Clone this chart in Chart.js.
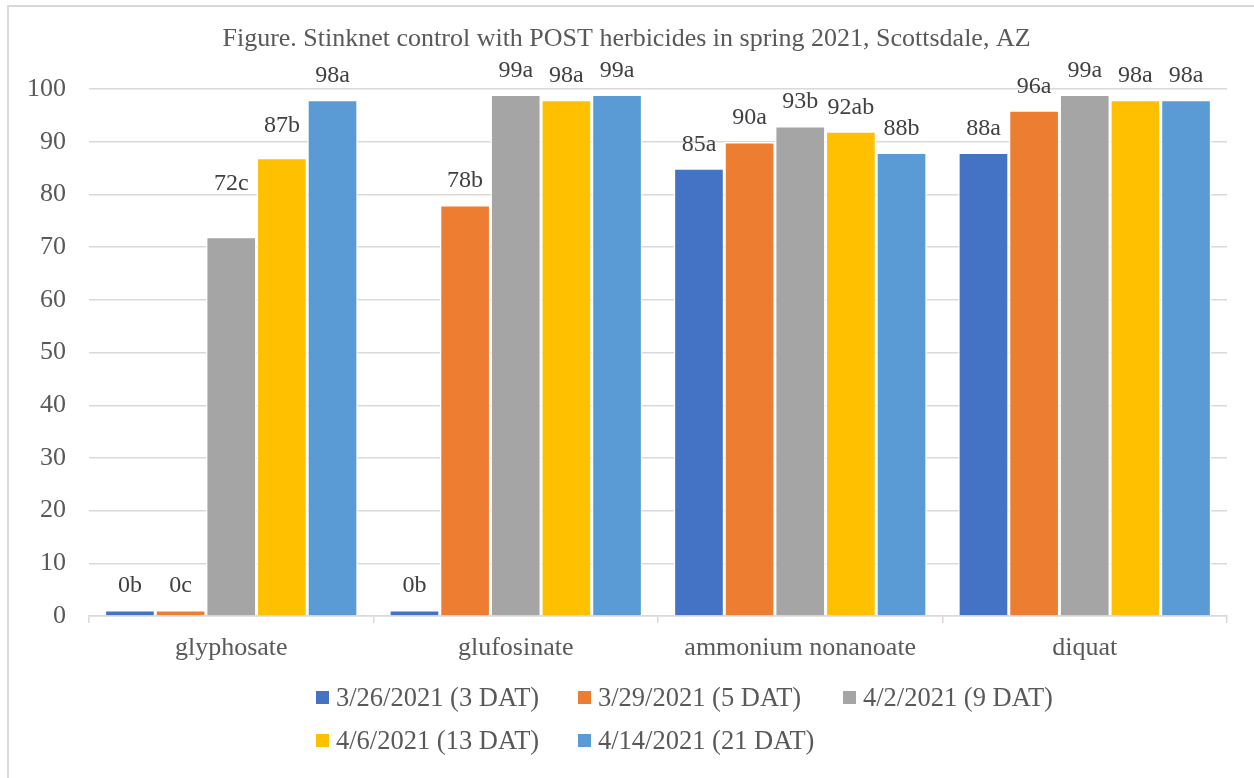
<!DOCTYPE html>
<html>
<head>
<meta charset="utf-8">
<title>Stinknet control with POST herbicides</title>
<script src="https://cdn.jsdelivr.net/npm/chart.js@4.4.1/dist/chart.umd.min.js"></script>
<style>
  html, body { margin: 0; padding: 0; background: #ffffff; }
  #wrap { position: relative; width: 1254px; height: 778px; overflow: hidden; }
  #frame { position: absolute; left: 7px; top: 5px; width: 1320px; height: 900px;
           border: 2px solid #d9d9d9; box-sizing: border-box; }
  #plot { position: absolute; left: 0; top: 0; width: 1254px; height: 778px; }
  #legend { position: absolute; left: 316px; top: 676px;
            display: grid; grid-template-columns: 262px 265px 265px;
            font-family: "Liberation Serif", "Times New Roman", serif; font-size: 26.5px; color: #595959; }
  #legend .item { display: flex; align-items: center; height: 43px; white-space: nowrap; }
  #legend .swatch { width: 13px; height: 13px; margin-right: 7px; flex: none; }
</style>
</head>
<body>
<div id="wrap">
  <div id="frame"></div>
  <div id="plot"><canvas id="chart"></canvas></div>
  <div id="legend"></div>
</div>
<script>
// Herbicide treatments along the category axis
const categories = ['glyphosate', 'glufosinate', 'ammonium nonanoate', 'diquat'];

// Rating dates (days after treatment)
const seriesNames = ['3/26/2021 (3 DAT)', '3/29/2021 (5 DAT)', '4/2/2021 (9 DAT)', '4/6/2021 (13 DAT)', '4/14/2021 (21 DAT)'];
const seriesColors = ['#4472c4', '#ed7d31', '#a5a5a5', '#ffc000', '#5b9bd5'];

// Percent control per rating date
const control0326 = [0, 0, 85, 88];
const control0329 = [0, 78, 90, 96];
const control0402 = [72, 99, 93, 99];
const control0406 = [87, 98, 92, 98];
const control0414 = [98, 99, 88, 98];

// Mean separation letters per rating date
const letters0326 = ['b', 'b', 'a', 'a'];
const letters0329 = ['c', 'b', 'a', 'a'];
const letters0402 = ['c', 'a', 'b', 'a'];
const letters0406 = ['b', 'a', 'ab', 'a'];
const letters0414 = ['a', 'a', 'b', 'a'];

// Y axis ticks
const yTicks = [0, 10, 20, 30, 40, 50, 60, 70, 80, 90, 100];

const seriesValues = [control0326, control0329, control0402, control0406, control0414];
const seriesLetters = [letters0326, letters0329, letters0402, letters0406, letters0414];

const serif = '"Liberation Serif", "Times New Roman", serif';
const textGray = '#595959';
const lineGray = '#d9d9d9';

// Value + letter written above every bar
const barLabels = {
  id: 'barLabels',
  afterDatasetsDraw(chart, args, opts) {
    const ctx = chart.ctx;
    ctx.save();
    ctx.font = opts.font;
    ctx.fillStyle = opts.color;
    ctx.textAlign = 'center';
    ctx.textBaseline = 'middle';
    chart.data.datasets.forEach((ds, i) => {
      const meta = chart.getDatasetMeta(i);
      if (meta.hidden) return;
      meta.data.forEach((bar, j) => {
        const lift = opts.lift + (opts.extraLift[i + '-' + j] || 0);
        ctx.fillText(String(ds.data[j]) + ds.letters[j], bar.x, bar.y - lift);
      });
    });
    ctx.restore();
  }
};

const datasets = seriesNames.map((name, i) => ({
  label: name,
  data: seriesValues[i],
  letters: seriesLetters[i],
  backgroundColor: seriesColors[i],
  borderColor: '#ffffff',
  borderWidth: 1.5,
  borderSkipped: 'start',
  minBarLength: 6,
  barPercentage: 1.0,
  categoryPercentage: 0.89
}));

const chart = new Chart(document.getElementById('chart'), {
  type: 'bar',
  data: { labels: categories, datasets },
  plugins: [barLabels],
  options: {
    responsive: true,
    maintainAspectRatio: false,
    animation: false,
    layout: { padding: { left: 26, right: 27, top: 0, bottom: 0 } },
    plugins: {
      legend: { display: false },
      tooltip: { enabled: false },
      title: {
        display: true,
        text: 'Figure. Stinknet control with POST herbicides in spring 2021, Scottsdale, AZ',
        color: textGray,
        font: { family: serif, size: 26, weight: 'normal' },
        padding: { top: 24, bottom: 34 }
      },
      barLabels: {
        font: '24px ' + serif,
        color: '#404040',
        lift: 24,
        extraLift: { '2-0': 29, '3-0': 8 }
      }
    },
    scales: {
      x: {
        grid: { drawOnChartArea: false, drawTicks: true, tickLength: 7, offset: true, color: lineGray, lineWidth: 1.5 },
        border: { display: true, color: lineGray, width: 1.5 },
        ticks: { color: textGray, font: { family: serif, size: 26 }, padding: 10, maxRotation: 0 },
        afterFit(scale) { scale.height = 162; }
      },
      y: {
        min: 0,
        max: 100,
        afterBuildTicks(scale) { scale.ticks = yTicks.map(v => ({ value: v })); },
        grid: { color: lineGray, lineWidth: 1.5, drawTicks: false },
        border: { display: false },
        ticks: { color: textGray, font: { family: serif, size: 26 }, padding: 23 },
        afterFit(scale) { scale.width = 63; }
      }
    }
  }
});

// Legend laid out in aligned columns, built from the chart's datasets
const legendEl = document.getElementById('legend');
chart.data.datasets.forEach(ds => {
  const item = document.createElement('div');
  item.className = 'item';
  const sw = document.createElement('span');
  sw.className = 'swatch';
  sw.style.background = ds.backgroundColor;
  const label = document.createElement('span');
  label.textContent = ds.label;
  item.appendChild(sw);
  item.appendChild(label);
  legendEl.appendChild(item);
});
</script>
</body>
</html>
